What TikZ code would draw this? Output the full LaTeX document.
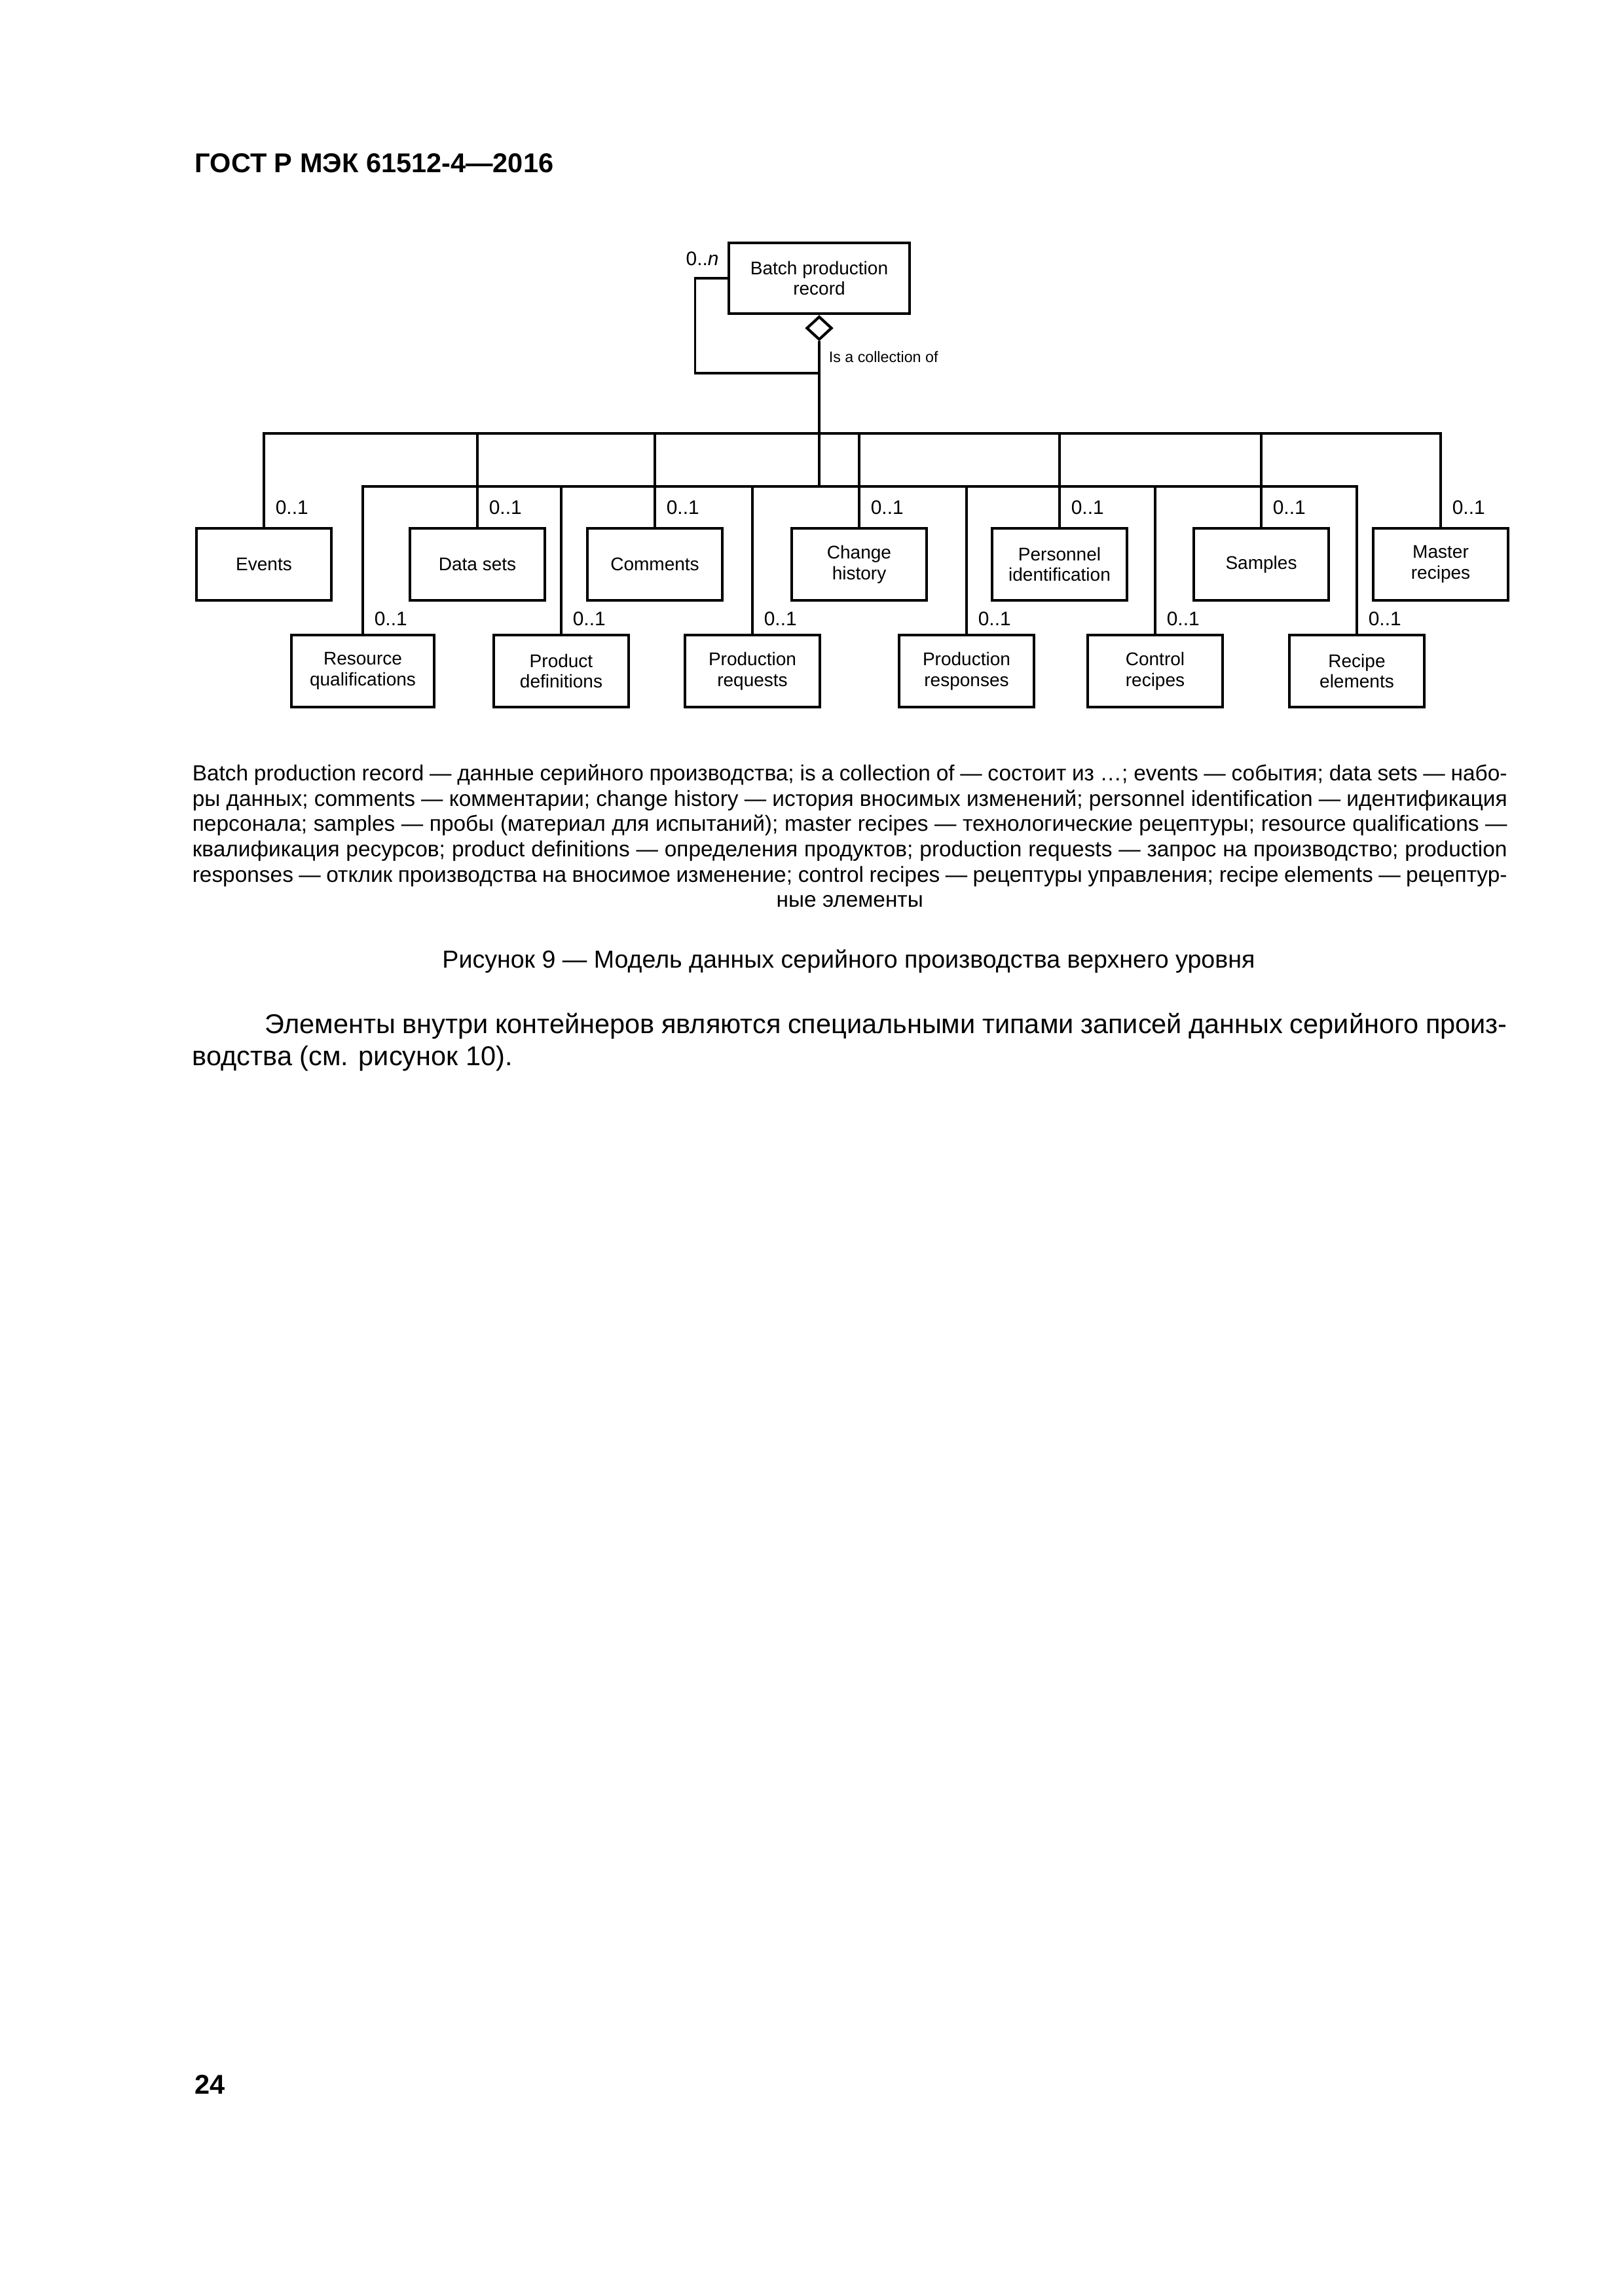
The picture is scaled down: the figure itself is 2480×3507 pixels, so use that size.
\documentclass[tikz,border=0pt]{standalone}
\usepackage{fontspec}
\setmainfont{Liberation Sans}
\usetikzlibrary{positioning,shapes.geometric,calc}

\tikzset{
  cls/.style={rectangle,draw,line width=1pt,fill=white,
              minimum width=17.4mm,minimum height=9.3mm,
              inner sep=1pt,align=center,
              font=\fontsize{6.75pt}{7.6pt}\selectfont},
  agg/.style={diamond,draw,line width=1pt,fill=white,
              minimum width=3.3mm,minimum height=3.05mm,inner sep=0pt},
  mult/.style={inner sep=0pt,font=\fontsize{7.2pt}{8pt}\selectfont},
  note/.style={inner sep=0pt,font=\fontsize{5.6pt}{6.5pt}\selectfont},
  edge/.style={line width=0.75pt},
}

\begin{document}
\begin{tikzpicture}[x=0.084677mm,y=-0.084677mm,
    para/.style={inner sep=0pt,text width=170mm,align=justify},
    plain/.style={inner sep=0pt},
]
\fill[white] (0,0) rectangle (2480,3507);
\useasboundingbox (0,0) rectangle (2480,3507);

\node[plain,anchor=base west,font=\bfseries\fontsize{10pt}{12pt}\selectfont] (hdr) at (297,263) {ГОСТ Р МЭК 61512-4—2016};

% model
\node[cls,minimum width=23.3mm,minimum height=9.15mm] (bpr) at (1251,425) {Batch production\\record};
\node[agg,anchor=north] (dia) at (bpr.south) {};
\coordinate (btop) at (1251,662);
\coordinate (bbot) at (1251,743);
\coordinate (lp) at (1251,570);

\node[cls] (evt)  at (403,862)  {Events};
\node[cls] (dset) at (729,862)  {Data sets};
\node[cls] (cmt)  at (1000,862) {Comments};
\node[cls] (chg)  at (1312,862) {Change\\history};
\node[cls] (pers) at (1618,862) {Personnel\\identification};
\node[cls] (smp)  at (1926,862) {Samples};
\node[cls] (mrcp) at (2200,862) {Master\\recipes};

\node[cls,minimum width=18.5mm] (resq) at (554,1025) {Resource\\qualifications};
\node[cls] (pdef) at (857,1025)  {Product\\definitions};
\node[cls] (preq) at (1149,1025) {Production\\requests};
\node[cls] (prsp) at (1476,1025) {Production\\responses};
\node[cls] (crcp) at (1764,1025) {Control\\recipes};
\node[cls] (relm) at (2072,1025) {Recipe\\elements};

\draw[edge] (dia.south) -- (bbot);
\draw[edge] (bpr.west) -- ++(-50,0) |- (lp);
\node[mult,anchor=east] (bprm) at ([shift={(-13,-30)}]bpr.west) {0..\textit{n}};
\node[note,anchor=west] (coll) at (1265,545) {Is a collection of};

\draw[edge] (evt.north) -- (evt.north |- btop) -- (mrcp.north |- btop) -- (mrcp.north);
\draw[edge] (resq.north) -- (resq.north |- bbot) -- (relm.north |- bbot) -- (relm.north);
\foreach \n in {dset,cmt,chg,pers,smp}
  \draw[edge] (\n.north |- btop) -- (\n.north);
\foreach \n in {pdef,preq,prsp,crcp}
  \draw[edge] (\n.north |- bbot) -- (\n.north);
\foreach \n in {evt,dset,cmt,chg,pers,smp,mrcp}
  \node[mult,anchor=west] (\n-m) at ([shift={(17,-30)}]\n.north) {0..1};
\foreach \n in {resq,pdef,preq,prsp,crcp,relm}
  \node[mult,anchor=west] (\n-m) at ([shift={(17,-23)}]\n.north) {0..1};

% legend, caption, text
\node[para,anchor=north west,font=\fontsize{8.05pt}{9.3pt}\selectfont] (lgd) at (293,1167) {\hyphenpenalty=10000\parfillskip=0pt
\spaceskip=0.278em plus 0.3em minus 0.14em
Batch production record — данные серийного производства; is a collection of — состоит из …; events — события; data sets — набо-\linebreak
ры данных; comments — комментарии; change history — история вносимых изменений; personnel identification — идентификация\linebreak
персонала; samples — пробы (материал для испытаний); master recipes — технологические рецептуры; resource qualifications —\linebreak
квалификация ресурсов; product definitions — определения продуктов; production requests — запрос на производство; production\linebreak
responses — отклик производства на вносимое изменение; control recipes — рецептуры управления; recipe elements — рецептур-\linebreak
\hspace*{\fill}ные элементы\hspace*{\fill}\par};

\node[plain,anchor=base,font=\fontsize{9.05pt}{11pt}\selectfont] (cap) at (1296,1478) {Рисунок 9 — Модель данных серийного производства верхнего уровня};

\node[para,anchor=north west,font=\fontsize{10pt}{11.8pt}\selectfont] (txt) at (293,1547) {\hyphenpenalty=10000
\hspace*{9.4mm}Элементы внутри контейнеров являются специальными типами записей данных серийного произ-\linebreak
водства (см. рисунок 10).};

\node[plain,anchor=base west,font=\bfseries\fontsize{10pt}{12pt}\selectfont] (pgn) at (297,3198) {24};
\end{tikzpicture}
\end{document}
